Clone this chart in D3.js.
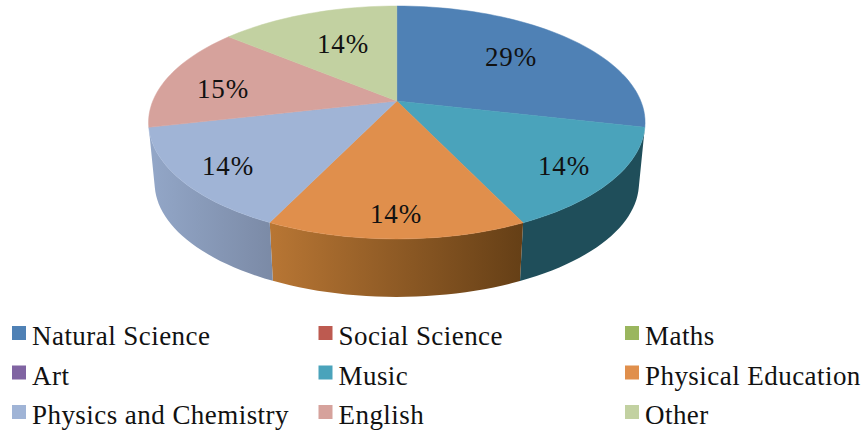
<!DOCTYPE html>
<html><head><meta charset="utf-8">
<script src="https://cdn.jsdelivr.net/npm/d3@7"></script>
<style>html,body{margin:0;padding:0;background:#fff}svg{display:block}
text{font-family:"Liberation Serif",serif;fill:#111}</style></head>
<body><svg id="c" width="863" height="434"></svg>
<script>
const categories = ["Natural Science","Social Science","Maths","Art","Music","Physical Education","Physics and Chemistry","English","Other"];
const values = [28.6,0,0,0,14.3,14.25,14.25,14.6,14.0];
const topColors = ["#4f81b5","#bd5a50","#9ab65e","#8064a2","#4aa3bb","#e08f4c","#a0b4d6","#d6a29c","#c2d1a1"];
const wallLeft  = ["#3a6088","#8c4039","#71873f","#5d4878","#1f4e5a","#b87634","#93a7c8","#a67c76","#919d78"];
const wallRight = ["#3a6088","#8c4039","#71873f","#5d4878","#1f4e5a","#653f16","#7b8aa6","#a67c76","#919d78"];
const labelAnchors = [[511,66],[0,0],[0,0],[0,0],[564,175],[396,223],[228,175],[223,98],[343,53]];

const svg=d3.select("#c");
const defs=svg.append("defs");
const cx=396.8;
const P=0.1845;
const topPlane={cy:101,a:112.5,b:244};
const botPlane={cy:162,a:110,b:238};
function project(pl,ang){
  const x=Math.sin(ang),y=-Math.cos(ang),d=1-P*y;
  return [cx+pl.b*x/d,pl.cy+pl.a*y/d];
}
const arcs=d3.pie().sort(null).value(d=>d)(values);
const line=d3.line();
const STEP=Math.PI/90;
function samples(a0,a1){
  const n=Math.max(1,Math.ceil((a1-a0)/STEP));
  return d3.range(n+1).map(i=>a0+(a1-a0)*i/n);
}
const visible=arcs.map((d,i)=>({...d,i})).filter(d=>d.value>0);
const front=visible.filter(d=>-Math.cos((d.startAngle+d.endAngle)/2)>0);

// side walls of the slices that face the viewer
const gWalls=svg.append("g");
front.forEach(d=>{
  const s=samples(d.startAngle,d.endAngle);
  const pts=[...s.map(a=>project(topPlane,a)),...s.slice().reverse().map(a=>project(botPlane,a))];
  const ext=d3.extent(pts,p=>p[0]);
  const id="wall"+d.i;
  const g=defs.append("linearGradient").attr("id",id).attr("gradientUnits","userSpaceOnUse")
    .attr("x1",ext[0]).attr("x2",ext[1]).attr("y1",0).attr("y2",0);
  g.append("stop").attr("offset",0).attr("stop-color",wallLeft[d.i]);
  g.append("stop").attr("offset",1).attr("stop-color",wallRight[d.i]);
  gWalls.append("path").attr("d",line(pts)+"Z").attr("fill",`url(#${id})`);
});
// top faces
const gTop=svg.append("g");
visible.forEach(d=>{
  const pts=[[cx,topPlane.cy],...samples(d.startAngle,d.endAngle).map(a=>project(topPlane,a))];
  gTop.append("path").attr("d",line(pts)+"Z").attr("fill",topColors[d.i])
    .attr("stroke",topColors[d.i]).attr("stroke-width",0.5);
});
// data labels
const total=d3.sum(values);
svg.append("g").selectAll("text").data(visible).join("text")
  .attr("x",d=>labelAnchors[d.i][0]).attr("y",d=>labelAnchors[d.i][1])
  .attr("text-anchor","middle").attr("letter-spacing",0.8)
  .attr("font-size",27).text(d=>Math.round(d.value/total*100)+"%");
// legend
const colX=d3.scalePoint().domain([0,1,2]).range([12,625]);
const rowY=d3.scalePoint().domain([0,1,2]).range([326,405]);
const leg=svg.append("g").selectAll("g").data(categories).join("g")
  .attr("transform",(d,i)=>`translate(${colX(i%3)},${rowY(Math.floor(i/3))})`);
leg.append("rect").attr("width",14).attr("height",14).attr("fill",(d,i)=>topColors[i]);
leg.append("text").attr("x",20).attr("y",19).attr("font-size",27).attr("letter-spacing",0.45).text(d=>d);
</script></body></html>
